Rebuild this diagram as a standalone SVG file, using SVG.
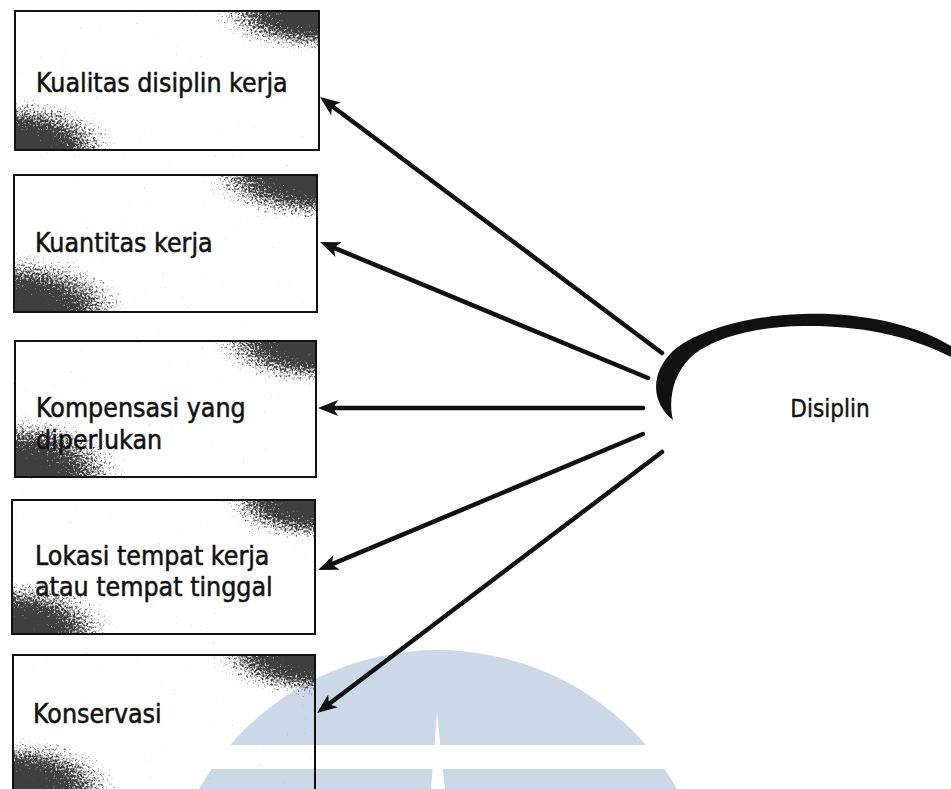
<svg xmlns="http://www.w3.org/2000/svg" width="951" height="789" viewBox="0 0 951 789">
<style>
.box{fill:none;stroke:#111;stroke-width:2}
.lbl{font-family:'DejaVu Sans Condensed','DejaVu Sans',sans-serif;font-stretch:condensed;font-size:26.5px;fill:#111;stroke:#111;stroke-width:0.5}
.con{stroke:#111;stroke-width:4.5;fill:none;stroke-linecap:round;marker-end:url(#ah)}
.wm{fill:#cbd8e8}
</style>
<defs>
<marker id="ah" viewBox="0 0 20 16" refX="8" refY="8" markerWidth="20" markerHeight="16" orient="auto" markerUnits="userSpaceOnUse">
<path d="M0,0 L20,8 L0,16 L5,8 Z" fill="#111"/>
</marker>
<radialGradient id="gTR" cx="1" cy="0" r="1">
<stop offset="0" stop-color="#000" stop-opacity="1"/>
<stop offset="0.5" stop-color="#000" stop-opacity="0.6"/>
<stop offset="1" stop-color="#000" stop-opacity="0"/>
</radialGradient>
<radialGradient id="gBL" cx="0" cy="1" r="1">
<stop offset="0" stop-color="#000" stop-opacity="1"/>
<stop offset="0.5" stop-color="#000" stop-opacity="0.6"/>
<stop offset="1" stop-color="#000" stop-opacity="0"/>
</radialGradient>
<filter id="spk" x="0" y="0" width="1" height="1">
<feTurbulence type="fractalNoise" baseFrequency="0.45" numOctaves="3" seed="5" result="n"/>
<feColorMatrix in="n" type="matrix" values="0 0 0 0 0 0 0 0 0 0 0 0 0 0 0 1 0 0 0 0" result="na"/>
<feComposite in="SourceGraphic" in2="na" operator="arithmetic" k1="0" k2="3.5" k3="-3" k4="0.55" result="c"/>
<feColorMatrix in="c" type="matrix" values="0 0 0 0 0.05 0 0 0 0 0.05 0 0 0 0 0.05 0 0 0 1 0"/>
</filter>
<clipPath id="wmclip"><rect x="0" y="0" width="951" height="745"/><rect x="0" y="769" width="951" height="20"/></clipPath>
</defs>
<rect width="951" height="789" fill="#fff"/>

<g id="watermark">
<path class="wm" clip-path="url(#wmclip)" d="M163,925 A275,275 0 0 1 713,925 Z M437,713 L431,789 L445,789 Z" fill-rule="evenodd"/>
</g>

<g id="textures" filter="url(#spk)">
<rect x="205" y="11" width="114" height="45" fill="url(#gTR)"/>
<rect x="15" y="95" width="110" height="55" fill="url(#gBL)"/>
<rect x="195" y="175" width="122" height="50" fill="url(#gTR)"/>
<rect x="14" y="250" width="125" height="62" fill="url(#gBL)"/>
<rect x="205" y="341" width="111" height="48" fill="url(#gTR)"/>
<rect x="15" y="410" width="120" height="67" fill="url(#gBL)"/>
<rect x="215" y="500" width="100" height="45" fill="url(#gTR)"/>
<rect x="12" y="575" width="110" height="59" fill="url(#gBL)"/>
<rect x="205" y="655" width="110" height="45" fill="url(#gTR)"/>
<rect x="13" y="735" width="115" height="54" fill="url(#gBL)"/>
</g>

<g id="n1"><rect class="box" x="15" y="11" width="304" height="139"/><text class="lbl" x="36" y="92">Kualitas disiplin kerja</text></g>
<g id="n2"><rect class="box" x="14" y="175" width="303" height="137"/><text class="lbl" x="35" y="252">Kuantitas kerja</text></g>
<g id="n3"><rect class="box" x="15" y="341" width="301" height="136"/><text class="lbl" x="36" y="417">Kompensasi yang</text><text class="lbl" x="36" y="449">diperlukan</text></g>
<g id="n4"><rect class="box" x="12" y="500" width="303" height="134"/><text class="lbl" x="35" y="565">Lokasi tempat kerja</text><text class="lbl" x="35" y="596">atau tempat tinggal</text></g>
<g id="n5"><rect class="box" x="13" y="655" width="302" height="140"/><text class="lbl" x="33" y="723">Konservasi</text></g>

<g id="disiplin">
<path fill="#111" d="M673,420 C653,405 648,375 673,351 C694,333 740,316 803,314 C850,312 910,321 951,346 L951,357 C905,333 850,325 803,326 C747,327 708,341 690,358 C673,375 668,400 673,420 Z"/>
<text x="830" y="417" text-anchor="middle" font-family="'DejaVu Sans Condensed','DejaVu Sans',sans-serif" font-stretch="condensed" font-size="24" fill="#111" stroke="#111" stroke-width="0.4">Disiplin</text>
</g>

<g id="connectors">
<path class="con" d="M662,353 L329.6,104.2"/>
<path class="con" d="M648,378 L331.1,246.6"/>
<path class="con" d="M643,408 L330,408"/>
<path class="con" d="M643,434 L329.1,565.4"/>
<path class="con" d="M662,452 L326.6,705.8"/>
</g>
</svg>
